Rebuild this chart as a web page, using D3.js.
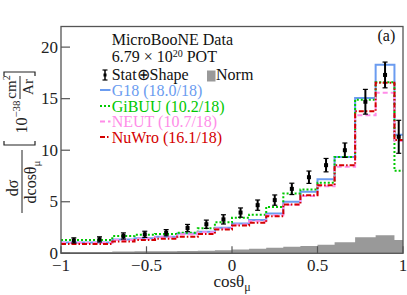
<!DOCTYPE html>
<html>
<head>
<meta charset="utf-8">
<script src="https://cdn.jsdelivr.net/npm/d3@7"></script>
<style>
  body { margin: 0; background: #fff; }
  svg { display: block; font-family: "Liberation Serif", "Times New Roman", serif; }
</style>
</head>
<body>
<svg id="chart" width="407" height="295"></svg>
<script>
// bin edges in cos(theta_mu)
const edges = [-1, -0.85, -0.7, -0.57, -0.45, -0.32, -0.2, -0.1, 0, 0.1, 0.2, 0.3, 0.4, 0.5, 0.6, 0.72, 0.84, 0.95, 1];

// data and uncertainties (10^-38 cm2/Ar)
const dataVals = [1.25, 1.35, 1.68, 1.84, 2.0, 2.45, 2.82, 3.29, 3.95, 4.67, 5.16, 6.25, 7.38, 8.55, 10.0, 14.7, 17.3, 11.3];
const dataErr  = [0.25, 0.25, 0.3, 0.3, 0.3, 0.35, 0.4, 0.45, 0.45, 0.5, 0.5, 0.55, 0.6, 0.65, 0.7, 1.2, 1.25, 1.6];
const normVals = [0.12, 0.13, 0.17, 0.19, 0.2, 0.22, 0.25, 0.3, 0.38, 0.45, 0.55, 0.64, 0.72, 0.82, 1.08, 1.55, 1.75, 1.3];

// generator predictions
const g18   = [1.05, 1.05, 1.35, 1.45, 1.6, 1.93, 2.1, 2.48, 2.9, 3.22, 3.87, 5.0, 5.96, 7.19, 9.35, 15.06, 18.3, 11.5];
const gibuu = [1.3, 1.3, 1.67, 1.8, 1.88, 2.0, 2.42, 3.0, 3.45, 3.75, 4.5, 5.8, 6.2, 6.85, 9.35, 14.9, 16.6, 8.0];
const neut  = [1.0, 1.0, 1.3, 1.4, 1.55, 1.85, 2.05, 2.4, 2.8, 3.1, 3.7, 4.7, 5.55, 6.5, 8.4, 13.38, 15.58, 10.9];
const nuwro = [0.9, 0.9, 1.15, 1.3, 1.4, 1.6, 1.87, 2.32, 2.7, 2.96, 3.6, 4.74, 5.64, 6.61, 8.55, 13.77, 16.55, 11.0];

const xTicks = [-1, -0.5, 0, 0.5, 1];
const yTicks = [0, 5, 10, 15, 20];

const svg = d3.select("#chart");
const x = d3.scaleLinear().domain([-1, 1]).range([61, 403]);
const y = d3.scaleLinear().domain([0, 22]).range([253.3, 26.5]);

const frameColor = "#555";

// histogram as steps
function stepPts(vals) {
  const pts = vals.map((v, i) => [edges[i], v]);
  pts.push([edges[edges.length - 1], vals[vals.length - 1]]);
  return pts;
}
const stepLine = d3.line().x(d => x(d[0])).y(d => y(d[1])).curve(d3.curveStepAfter);

// norm uncertainty (grey filled)
const area = d3.area().x(d => x(d[0])).y0(y(0)).y1(d => y(d[1])).curve(d3.curveStepAfter);
svg.append("path").attr("d", area(stepPts(normVals))).attr("fill", "#999");

// MC curves
const models = [
  { name: "G18 (18.0/18)", vals: g18, color: "#6b9cf0", dash: null },
  { name: "GiBUU (10.2/18)", vals: gibuu, color: "#00c800", dash: "2,2" },
  { name: "NEUT (10.7/18)", vals: neut, color: "#ff8ce8", dash: "5,3" },
  { name: "NuWro (16.1/18)", vals: nuwro, color: "#d40000", dash: "5,2,1.5,2" }
];

models.forEach(m => {
  svg.append("path")
    .attr("d", stepLine(stepPts(m.vals)))
    .attr("fill", "none")
    .attr("stroke", m.color)
    .attr("stroke-width", 2)
    .attr("stroke-dasharray", m.dash);
});

// data points
const centers = dataVals.map((v, i) => (edges[i] + edges[i + 1]) / 2);
const pts = svg.append("g").selectAll("g")
  .data(dataVals.map((v, i) => ({ c: centers[i], v: v, e: dataErr[i] })))
  .enter().append("g");
pts.append("line")
  .attr("x1", d => x(d.c)).attr("x2", d => x(d.c))
  .attr("y1", d => y(d.v + d.e)).attr("y2", d => y(d.v - d.e))
  .attr("stroke", "#000").attr("stroke-width", 2);
[1, -1].forEach(s => {
  pts.append("line")
    .attr("x1", d => x(d.c) - 2.5).attr("x2", d => x(d.c) + 2.5)
    .attr("y1", d => y(d.v + s * d.e)).attr("y2", d => y(d.v + s * d.e))
    .attr("stroke", "#000").attr("stroke-width", 1.2);
});
pts.append("rect")
  .attr("x", d => x(d.c) - 2).attr("y", d => y(d.v) - 2)
  .attr("width", 4).attr("height", 4).attr("fill", "#000");

// frame
svg.append("rect")
  .attr("x", x(-1)).attr("y", y(22))
  .attr("width", x(1) - x(-1)).attr("height", y(0) - y(22))
  .attr("fill", "none").attr("stroke", frameColor).attr("stroke-width", 1.3);

// y ticks
svg.append("g").selectAll("line").data(yTicks).enter().append("line")
  .attr("x1", x(-1)).attr("x2", x(-1) + 9)
  .attr("y1", d => y(d)).attr("y2", d => y(d))
  .attr("stroke", frameColor).attr("stroke-width", 1.2);
svg.append("g").selectAll("text").data(yTicks).enter().append("text")
  .attr("x", 58).attr("y", d => y(d) + 5.5)
  .attr("text-anchor", "end").attr("font-size", 17).attr("fill", "#222")
  .text(d => d);

// x ticks
svg.append("g").selectAll("line").data(xTicks).enter().append("line")
  .attr("x1", d => x(d)).attr("x2", d => x(d))
  .attr("y1", y(0)).attr("y2", y(0) - 7)
  .attr("stroke", frameColor).attr("stroke-width", 1.2);
svg.append("g").selectAll("text").data(xTicks).enter().append("text")
  .attr("x", d => x(d)).attr("y", 270.5)
  .attr("text-anchor", "middle").attr("font-size", 17).attr("fill", "#222")
  .text(d => d < 0 ? "\u2212" + Math.abs(d) : d);

// x title
const xt = svg.append("text").attr("x", 232).attr("y", 287)
  .attr("text-anchor", "middle").attr("font-size", 17).attr("fill", "#222");
xt.append("tspan").text("cos\u03b8");
xt.append("tspan").attr("font-size", 12).attr("dy", 4).text("\u03bc");

// y title (rotated)
const yt = svg.append("g").attr("transform", "rotate(-90)").attr("fill", "#222");
yt.append("text").attr("x", -188).attr("y", 18).attr("text-anchor", "middle")
  .attr("font-size", 16).text("d\u03c3");
yt.append("line").attr("x1", -213).attr("x2", -150).attr("y1", 22).attr("y2", 22)
  .attr("stroke", "#222").attr("stroke-width", 1);
const den = yt.append("text").attr("x", -182).attr("y", 36).attr("text-anchor", "middle")
  .attr("font-size", 16);
den.append("tspan").text("dcos\u03b8");
den.append("tspan").attr("font-size", 11).attr("dy", 4).text("\u03bc");
const pw = yt.append("text").attr("x", -117).attr("y", 27).attr("text-anchor", "middle")
  .attr("font-size", 16);
pw.append("tspan").text("10");
pw.append("tspan").attr("font-size", 11).attr("dy", -7).text("\u221238");
const cm = yt.append("text").attr("x", -87).attr("y", 16).attr("text-anchor", "middle")
  .attr("font-size", 15);
cm.append("tspan").text("cm");
cm.append("tspan").attr("font-size", 10).attr("dy", -6).text("2");
yt.append("line").attr("x1", -99).attr("x2", -76).attr("y1", 20).attr("y2", 20)
  .attr("stroke", "#222").attr("stroke-width", 1);
yt.append("text").attr("x", -87).attr("y", 33).attr("text-anchor", "middle")
  .attr("font-size", 15).text("Ar");
// brackets
yt.append("path").attr("d", "M-141,4 L-145,4 L-145,35 L-141,35")
  .attr("fill", "none").attr("stroke", "#222").attr("stroke-width", 1.2);
yt.append("path").attr("d", "M-76,4 L-72,4 L-72,35 L-76,35")
  .attr("fill", "none").attr("stroke", "#222").attr("stroke-width", 1.2);

// legend / labels
const lx = 111.7;
svg.append("text").attr("x", lx).attr("y", 45).attr("font-size", 16).attr("fill", "#111")
  .text("MicroBooNE Data");
const pot = svg.append("text").attr("x", lx).attr("y", 61.5).attr("font-size", 16).attr("fill", "#111");
pot.append("tspan").text("6.79 \u00d7 10");
pot.append("tspan").attr("font-size", 10).attr("dy", -5).text("20");
pot.append("tspan").attr("dy", 5).text(" POT");
svg.append("text").attr("x", lx).attr("y", 79.5).attr("font-size", 16).attr("fill", "#111")
  .text("Stat\u2295Shape");
// data icon
svg.append("line").attr("x1", 105).attr("x2", 105).attr("y1", 70).attr("y2", 80)
  .attr("stroke", "#000").attr("stroke-width", 1.5);
[70, 80].forEach(yy => svg.append("line").attr("x1", 102.5).attr("x2", 107.5)
  .attr("y1", yy).attr("y2", yy).attr("stroke", "#000").attr("stroke-width", 1.2));
svg.append("rect").attr("x", 103.5).attr("y", 73.5).attr("width", 3).attr("height", 3).attr("fill", "#000");
// norm icon
svg.append("rect").attr("x", 207).attr("y", 70.5).attr("width", 8.5).attr("height", 11).attr("fill", "#999");
svg.append("text").attr("x", 216).attr("y", 79.5).attr("font-size", 16).attr("fill", "#111")
  .text("Norm");

const legY = [95.5, 111.5, 127, 142.5];
models.forEach((m, i) => {
  svg.append("line")
    .attr("x1", 100).attr("x2", 110.5)
    .attr("y1", legY[i] - 5.5).attr("y2", legY[i] - 5.5)
    .attr("stroke", m.color).attr("stroke-width", 2)
    .attr("stroke-dasharray", m.dash);
  svg.append("text").attr("x", lx).attr("y", legY[i]).attr("font-size", 16)
    .attr("fill", m.color).text(m.name);
});

svg.append("text").attr("x", 377.5).attr("y", 40.7).attr("font-size", 16).attr("fill", "#111")
  .text("(a)");
</script>
</body>
</html>
